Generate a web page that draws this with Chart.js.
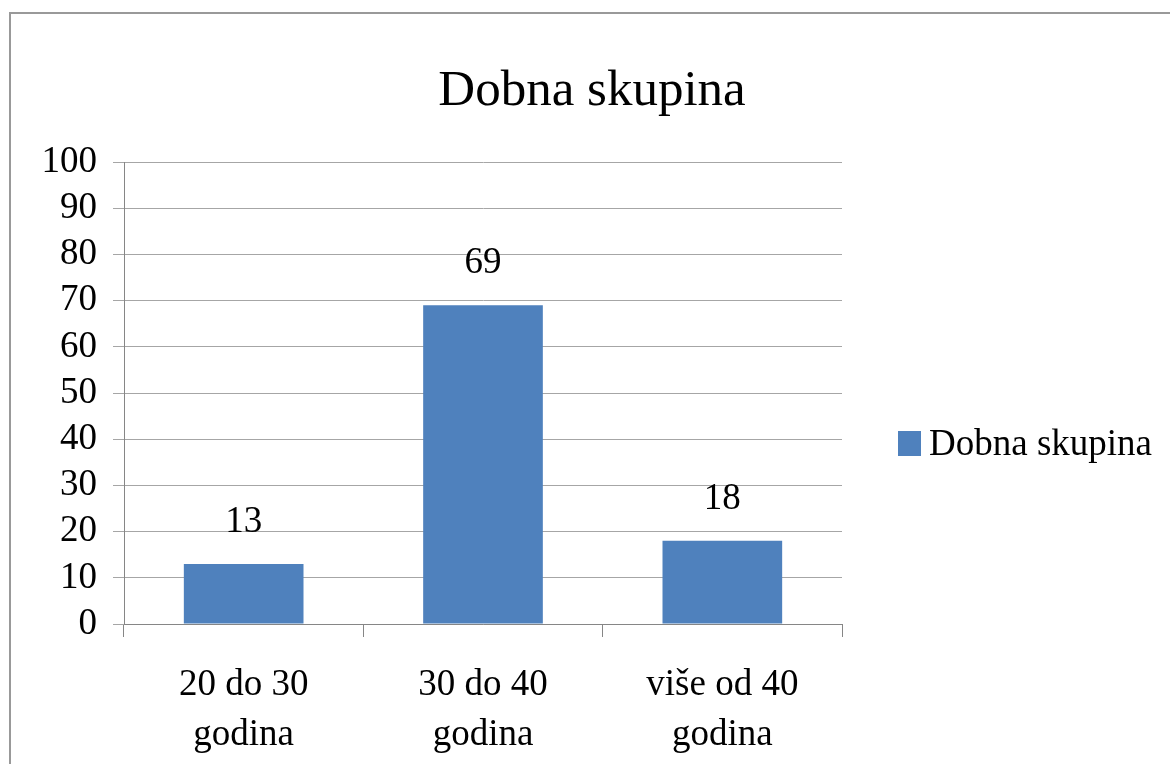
<!DOCTYPE html>
<html>
<head>
<meta charset="utf-8">
<title>Dobna skupina</title>
<script src="https://cdn.jsdelivr.net/npm/chart.js@4.4.1/dist/chart.umd.min.js"></script>
<style>
    html, body { margin: 0; padding: 0; background: #fff; overflow: hidden; }
    #wrap { position: relative; width: 1170px; height: 764px; overflow: hidden; font-family: "Liberation Serif", "Times New Roman", serif; color: #000; }
    #frame { position: absolute; left: 9px; top: 12px; width: 1300px; height: 900px; border-left: 2px solid #999; border-top: 2px solid #999; }
    #ageChart { position: absolute; left: 0; top: 0; }
    #chartTitle { position: absolute; left: 0; top: 58px; width: 1184px; text-align: center; font-size: 51px; line-height: 60px; white-space: nowrap; }
    #legend { position: absolute; left: 898px; top: 420px; display: flex; align-items: center; font-size: 37px; line-height: 46px; white-space: nowrap; }
    #legend .swatch { width: 23px; height: 25px; margin-right: 8px; }
</style>
</head>
<body>
<div id="wrap">
    <div id="frame"></div>
    <div id="chartTitle"></div>
    <canvas id="ageChart" width="1170" height="764"></canvas>
    <div id="legend"><span class="swatch"></span><span class="text"></span></div>
</div>
<script>
const chartTitle = 'Dobna skupina';
const seriesName = 'Dobna skupina';
const categories = [['20 do 30', 'godina'], ['30 do 40', 'godina'], ['više od 40', 'godina']];
const shares = [13, 69, 18];
const yTicks = [0, 10, 20, 30, 40, 50, 60, 70, 80, 90, 100];

const barColor = '#4F81BD';
const fontFamily = '"Liberation Serif", "Times New Roman", serif';

Chart.defaults.font.family = fontFamily;
Chart.defaults.color = '#000';

// numbers above the bars, like the excel data labels
const valueLabels = {
    id: 'valueLabels',
    afterDatasetsDraw(chart) {
        const ctx = chart.ctx;
        const meta = chart.getDatasetMeta(0);
        ctx.save();
        ctx.font = '37px ' + fontFamily;
        ctx.fillStyle = '#000';
        ctx.textAlign = 'center';
        ctx.textBaseline = 'alphabetic';
        meta.data.forEach((bar, i) => {
            ctx.fillText(String(shares[i]), bar.x, bar.y - 32);
        });
        ctx.restore();
    }
};

const ctx = document.getElementById('ageChart').getContext('2d');
window.ageChart = new Chart(ctx, {
    type: 'bar',
    data: {
        labels: categories,
        datasets: [{
            label: seriesName,
            data: shares,
            backgroundColor: barColor,
            borderWidth: 0,
            barPercentage: 0.5,
            categoryPercentage: 1
        }]
    },
    options: {
        responsive: false,
        animation: false,
        layout: {
            padding: { left: 0, right: 328, top: 162, bottom: 0 }
        },
        plugins: {
            legend: { display: false },
            tooltip: { enabled: false },
            title: { display: false }
        },
        scales: {
            x: {
                grid: {
                    drawOnChartArea: false,
                    drawTicks: true,
                    tickLength: 13,
                    color: '#868686',
                    offset: true
                },
                border: { color: '#868686' },
                ticks: {
                    color: '#000',
                    font: { size: 37, lineHeight: 50 / 37 },
                    padding: 23,
                    maxRotation: 0,
                    autoSkip: false
                },
                afterFit(scale) { scale.height = 140; }
            },
            y: {
                min: yTicks[0],
                max: yTicks[yTicks.length - 1],
                ticks: {
                    stepSize: yTicks[1] - yTicks[0],
                    autoSkip: false,
                    color: '#000',
                    font: { size: 37 },
                    padding: 16
                },
                grid: { color: '#a6a6a6', tickLength: 11 },
                border: { color: '#868686' },
                afterFit(scale) { scale.width = 124; }
            }
        }
    },
    plugins: [valueLabels]
});

document.getElementById('chartTitle').textContent = chartTitle;
document.querySelector('#legend .swatch').style.background = barColor;
document.querySelector('#legend .text').textContent = seriesName;
</script>
</body>
</html>
